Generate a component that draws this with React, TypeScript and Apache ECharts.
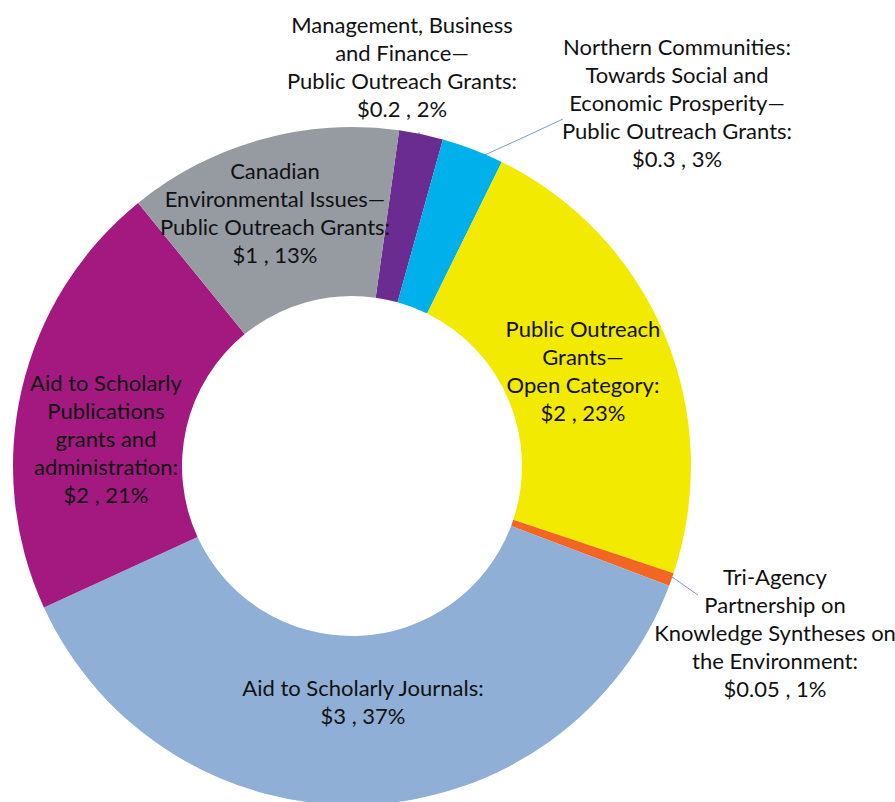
import React, { useEffect, useRef } from "react";
import * as echarts from "echarts";

// Category names (line breaks as in the reference labels)
const categories: string[] = [
  "Management, Business\nand Finance—\nPublic Outreach Grants",
  "Northern Communities:\nTowards Social and\nEconomic Prosperity—\nPublic Outreach Grants",
  "Public Outreach\nGrants—\nOpen Category",
  "Tri-Agency\nPartnership on\nKnowledge Syntheses on\nthe Environment",
  "Aid to Scholarly Journals",
  "Aid to Scholarly\nPublications\ngrants and\nadministration",
  "Canadian\nEnvironmental Issues—\nPublic Outreach Grants",
];
// Funding amounts ($ millions)
const values: number[] = [0.17, 0.24, 1.85, 0.05, 3.03, 1.7, 1.06];
const amountLabels: string[] = ["$0.2", "$0.3", "$2", "$0.05", "$3", "$2", "$1"];
const percentLabels: string[] = ["2%", "3%", "23%", "1%", "37%", "21%", "13%"];

const colors = ["#6a2c91", "#00b0ea", "#f2ea00", "#f26522", "#8fafd6", "#a3197f", "#959ba1"];

// layout (not data): label centres and leader lines
const labelPos: number[][] = [
  [402, 66],
  [677, 102],
  [583, 370],
  [775, 632],
  [363, 701],
  [106, 438],
  [275, 212],
];
const leaders: Record<number, number[][]> = {
  0: [[419, 132], [419, 145], [419, 157]],
  1: [[563, 119], [520, 139], [478, 158]],
  3: [[698, 595], [685, 586], [672, 577]],
};

export default function App() {
  const ref = useRef<HTMLDivElement>(null);
  useEffect(() => {
    if (!ref.current) return;
    const chart = echarts.init(ref.current, undefined, { renderer: "svg" });
    chart.setOption({
      animation: false,
      backgroundColor: "#ffffff",
      series: [
        {
          type: "pie",
          center: [352, 466],
          radius: [170, 339],
          startAngle: 82,
          clockwise: true,
          avoidLabelOverlap: false,
          emphasis: { disabled: true },
          itemStyle: { borderWidth: 0 },
          label: {
            show: true,
            position: "inside",
            color: "#111111",
            fontFamily: "Lato",
            fontSize: 22,
            lineHeight: 28,
            align: "center",
            formatter: (p: any) =>
              `${categories[p.dataIndex]}:\n${amountLabels[p.dataIndex]} , ${percentLabels[p.dataIndex]}`,
          },
          labelLine: { show: false },
          labelLayout: (params: any) => {
            const i = params.dataIndex;
            const [x, y] = labelPos[i];
            const r: any = { x, y, align: "center", verticalAlign: "middle" };
            if (leaders[i]) r.labelLinePoints = leaders[i];
            return r;
          },
          data: values.map((v, i) => ({
            value: v,
            name: categories[i],
            itemStyle: { color: colors[i] },
            ...(leaders[i]
              ? {
                  label: { position: "outside" },
                  labelLine: { show: true, lineStyle: { color: "#7b9cc9", width: 1 } },
                }
              : {}),
          })),
        },
      ],
    });
    return () => chart.dispose();
  }, []);
  return (
    <div
      ref={ref}
      style={{ position: "fixed", left: 0, top: 0, width: 895, height: 802, background: "#fff" }}
    />
  );
}
